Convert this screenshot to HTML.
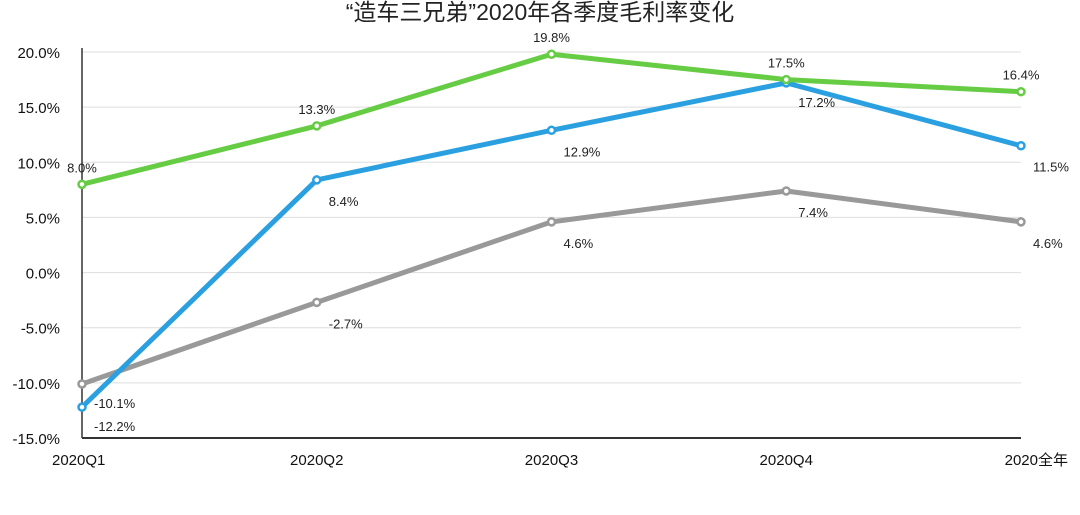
<!DOCTYPE html>
<html><head><meta charset="utf-8"><style>
body{margin:0;background:#fff;}
svg text{font-family:"Liberation Sans","Noto Sans CJK SC",sans-serif;}
</style></head><body>
<svg width="1080" height="510" xmlns="http://www.w3.org/2000/svg">
<text x="540" y="20" text-anchor="middle" font-size="23" fill="#222">“造车三兄弟”2020年各季度毛利率变化</text>
<g id="grid"></g><g id="series"></g><g id="labels"></g>
</svg>
<script>
const categories=["2020Q1","2020Q2","2020Q3","2020Q4","2020全年"];
const ticks=[20,15,10,5,0,-5,-10,-15];
const greenVals=[8.0,13.3,19.8,17.5,16.4];
const blueVals=[-12.2,8.4,12.9,17.2,11.5];
const grayVals=[-10.1,-2.7,4.6,7.4,4.6];
const NS="http://www.w3.org/2000/svg";
const x0=82,x1=1021,yTop=52,yBot=438;
const xs=i=>x0+(x1-x0)*i/(categories.length-1);
const ys=v=>yTop+(20-v)*(yBot-yTop)/35;
function mk(t,a,p){const e=document.createElementNS(NS,t);for(const k in a)e.setAttribute(k,a[k]);p.appendChild(e);return e;}
const g=document.getElementById('grid');
ticks.forEach(t=>{
 const l=mk('line',{x1:x0,x2:x1,y1:ys(t),y2:ys(t),stroke:t===-15?'#333':'#ddd','stroke-width':t===-15?2:1},g);
 
 
 const tx=mk('text',{x:60,y:ys(t)+6,'text-anchor':'end','font-size':15,fill:'#111','font-weight':'500'},g);
 tx.textContent=t.toFixed(1)+'%';
 
 
});
const ax=mk('line',{x1:x0,x2:x0,y1:yTop-4,y2:yBot,stroke:'#333','stroke-width':1.5},g);


categories.forEach((c,i)=>{
 const anchor=i===0?'start':(i===categories.length-1?'end':'middle');
 const xx=i===0?52:(i===categories.length-1?1068:xs(i));
 const tx=mk('text',{x:xx,y:465,'text-anchor':anchor,'font-size':15,fill:'#111'},g);
 tx.textContent=c;
 
 
});
const sg=document.getElementById('series'),lg=document.getElementById('labels');
function draw(vals,color,name,off){
 const pts=vals.map((v,i)=>xs(i)+','+ys(v)).join(' ');
 const pl=mk('polyline',{points:pts,fill:'none',stroke:color,'stroke-width':5,'stroke-linejoin':'round'},sg);
 
 
 vals.forEach((v,i)=>{
  const c=mk('circle',{cx:xs(i),cy:ys(v),r:3.5,fill:'#fff',stroke:color,'stroke-width':2.5},sg);
  
  
  const o=off(i);
  const t=mk('text',{x:xs(i)+o[0],y:ys(v)+o[1],'text-anchor':o[2],'font-size':13,fill:'#222'},lg);
  t.textContent=v.toFixed(1)+'%';
  
  
 });
}
draw(grayVals,'#999','gray-series',i=>i===0?[12,24,'start']:[12,26,'start']);
draw(blueVals,'#2aa0e0','blue-series',i=>i===0?[12,24,'start']:(i===3?[12,24,'start']:[12,26,'start']));
draw(greenVals,'#66cc44','green-series',i=>[0,-12,'middle']);
</script>
</body></html>
